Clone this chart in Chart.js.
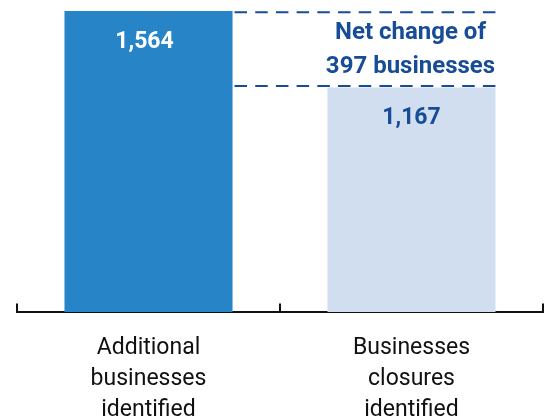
<!DOCTYPE html>
<html><head><meta charset="utf-8">
<script src="https://cdn.jsdelivr.net/npm/chart.js@4/dist/chart.umd.min.js"></script>
<style>html,body{margin:0;padding:0;background:#fff}#wrap{width:545px;height:419px;position:relative}</style>
</head><body><div id="wrap"><canvas id="c"></canvas></div>
<script>
const categories = [['Additional','businesses','identified'],['Businesses','closures','identified']];
const values = [1564, 1167];
const valueLabels = ['1,564', '1,167'];
const annotationLines = ['Net change of', '397 businesses'];

const barColors = ['#2784c7', '#d1def0'];
const valueLabelColors = ['#ffffff', '#174c97'];
const FONT = 'Roboto, "Open Sans", sans-serif';
const DARK = '#174c97';
const Y_MAX = 1621;

const overlay = {
  id: 'overlay',
  afterDatasetsDraw(chart) {
    const ctx = chart.ctx;
    const bars = chart.getDatasetMeta(0).data;
    const ys = chart.scales.y, xs = chart.scales.x;
    ctx.save();
    // value labels
    ctx.font = 'bold 23px ' + FONT;
    ctx.textAlign = 'center';
    ctx.textBaseline = 'alphabetic';
    const dx = [-4, 0];
    bars.forEach((b, i) => {
      ctx.fillStyle = valueLabelColors[i];
      ctx.fillText(valueLabels[i], b.x + dx[i], b.y + 37);
    });
    // dashed lines marking the difference
    const x0 = bars[0].x + bars[0].width / 2 + 2;
    const x1 = bars[1].x + bars[1].width / 2;
    ctx.strokeStyle = DARK;
    ctx.lineWidth = 2.2;
    ctx.setLineDash([12.5, 8.2]);
    const yTop = ys.getPixelForValue(values[0]) + 1.3;
    const yBot = ys.getPixelForValue(values[1]) - 1.4;
    [yTop, yBot].forEach(y => {
      ctx.beginPath(); ctx.moveTo(x0, y); ctx.lineTo(x1, y); ctx.stroke();
    });
    ctx.setLineDash([]);
    // annotation text
    ctx.fillStyle = DARK;
    ctx.font = 'bold 24px ' + FONT;
    const cx = bars[1].x - 1;
    ctx.fillText(annotationLines[0], cx, yTop + 27);
    ctx.fillText(annotationLines[1], cx, yTop + 60.5);
    // axis tick marks pointing up
    const axisY = chart.chartArea.bottom;
    ctx.strokeStyle = '#111';
    ctx.lineWidth = 2;
    for (let i = 0; i <= categories.length; i++) {
      const x = xs.getPixelForValue(i - 0.5);
      ctx.beginPath(); ctx.moveTo(x, axisY + 1); ctx.lineTo(x, axisY - 8.5); ctx.stroke();
    }
    ctx.restore();
  }
};

new Chart(document.getElementById('c'), {
  type: 'bar',
  data: {
    labels: categories,
    datasets: [{ data: values, backgroundColor: barColors, borderWidth: 0,
      categoryPercentage: 1, barPercentage: 0.639 }]
  },
  options: {
    responsive: true, maintainAspectRatio: false, animation: false,
    layout: { padding: { left: 17, right: 2, top: 0, bottom: 0 } },
    plugins: { legend: { display: false }, tooltip: { enabled: false } },
    scales: {
      x: {
        afterFit(scale) { scale.height = 107; },
        grid: { display: false, drawTicks: false },
        border: { display: true, color: '#111', width: 2 },
        ticks: { color: '#111', font: { family: FONT, size: 23, lineHeight: 1.35 }, padding: 21, maxRotation: 0, minRotation: 0 }
      },
      y: { display: false, min: 0, max: Y_MAX }
    }
  },
  plugins: [overlay]
});
</script></body></html>
